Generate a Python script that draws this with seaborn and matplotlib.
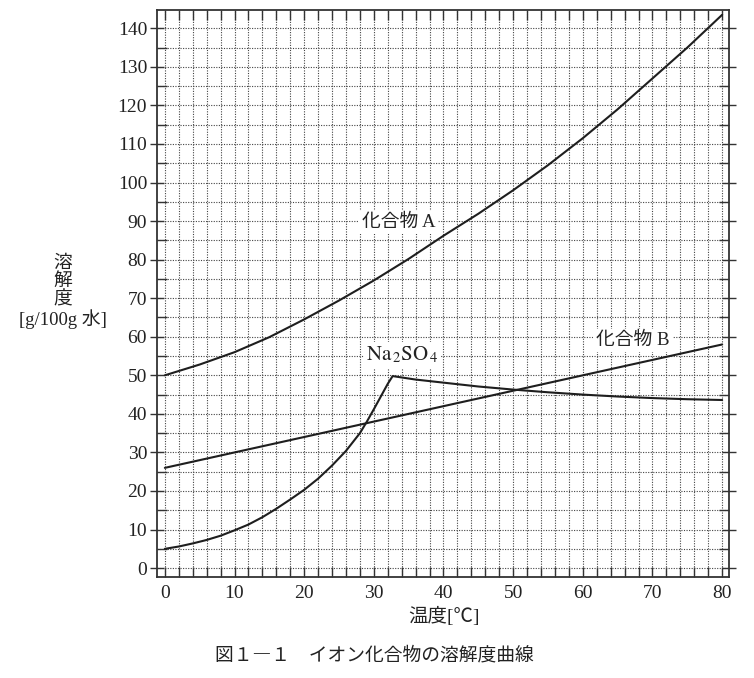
import numpy as np
import pandas as pd

import matplotlib
matplotlib.use('AGG')
import matplotlib.pyplot as plt
from matplotlib.ticker import MultipleLocator
import seaborn as sns

sns.set_theme(style="white")
plt.rcParams['font.family'] = ['Liberation Serif', 'Noto Sans CJK JP', 'DejaVu Sans']
plt.rcParams['mathtext.fontset'] = 'stix'

# values
temp_a = [0, 5, 10, 15, 20, 25, 30, 35, 40, 45, 50, 55, 60, 65, 70, 75, 80]
sol_a = [50, 52.8, 56, 59.9, 64.5, 69.4, 74.6, 80.2, 86.2, 91.9, 98, 104.5,
         111.5, 119, 127, 135, 143.5]

temp_b = [0, 80]
sol_b = [26, 58]

temp_na = [0, 2, 4, 6, 8, 10, 12, 14, 16, 18, 20, 22, 24, 26, 28, 29, 30, 31, 32, 32.7,
           36, 40, 45, 50, 55, 60, 65, 70, 75, 80]
sol_na = [5.0, 5.6, 6.4, 7.3, 8.4, 9.8, 11.3, 13.2, 15.4, 17.8, 20.3, 23.2, 26.6,
          30.4, 35.0, 38.0, 41.2, 44.5, 47.8, 49.8,
          48.9, 48.1, 47.1, 46.3, 45.6, 45.0, 44.5, 44.1, 43.8, 43.6]

x_ticks = [0, 10, 20, 30, 40, 50, 60, 70, 80]
y_ticks = [0, 10, 20, 30, 40, 50, 60, 70, 80, 90, 100, 110, 120, 130, 140]

df_a = pd.DataFrame({'temp': temp_a, 'sol': sol_a})
df_b = pd.DataFrame({'temp': temp_b, 'sol': sol_b})
df_na = pd.DataFrame({'temp': temp_na, 'sol': sol_na})

fig = plt.figure(figsize=(7.54, 6.78), dpi=100)
ax = fig.add_axes([0.208, 0.149, 0.759, 0.836])

for d in (df_a, df_b, df_na):
    sns.lineplot(data=d, x='temp', y='sol', color='#1e1e1e', lw=1.5, ax=ax, zorder=3)

ax.set_xlim(-1.15, 81)
ax.set_ylim(-2.3, 144.7)
ax.set_xticks(x_ticks)
ax.set_yticks(y_ticks)
ax.xaxis.set_minor_locator(MultipleLocator(2))
ax.yaxis.set_minor_locator(MultipleLocator(5))

#grid: dotted every 2 deg / every 5 g
ax.grid(which='both', color='#444444', linestyle=(0, (1, 1.3)), linewidth=0.8)
ax.set_axisbelow(True)

for s in ax.spines.values():
    s.set_color('#333333')
    s.set_linewidth(1.3)

ax.tick_params(axis='both', which='both', direction='in', color='#333333',
               top=True, right=True, bottom=True, left=True, width=1.0)
ax.tick_params(axis='both', which='major', length=7, labelsize=14, labelcolor='#222222')
ax.tick_params(axis='both', which='minor', length=7)
ax.tick_params(axis='x', which='major', pad=6)
ax.tick_params(axis='y', which='major', direction='inout', length=10, pad=2)

ax.set_xlabel('')
ax.set_ylabel('')

box = dict(facecolor='white', edgecolor='none', pad=2)
ax.text(33.6, 89.7, '化合物 A', fontsize=13.5, ha='center', va='center',
        color='#222222', bbox=box, zorder=4)
ax.text(67.2, 59.1, '化合物 B', fontsize=13.5, ha='center', va='center',
        color='#222222', bbox=box, zorder=4)
ax.text(34.1, 55.2, r'$\mathrm{Na}_{\,2}\mathrm{SO}_{\,4}$', fontsize=15, ha='center',
        va='center', color='#222222', bbox=box, zorder=4)

fig.text(63 / 754, 1 - 292 / 678, '溶\n解\n度\n[g/100g 水]', fontsize=13.5,
         ha='center', va='center', color='#222222', linespacing=1.05)
fig.text(444 / 754, 1 - 616 / 678, '温度[℃]', fontsize=14, ha='center',
         va='center', color='#222222')
fig.text(374 / 754, 1 - 655 / 678, '図１―１　イオン化合物の溶解度曲線', fontsize=13.5,
         family='Noto Sans CJK JP', ha='center', va='center', color='#222222')

fig.savefig('out.png', dpi=100, facecolor='white')
